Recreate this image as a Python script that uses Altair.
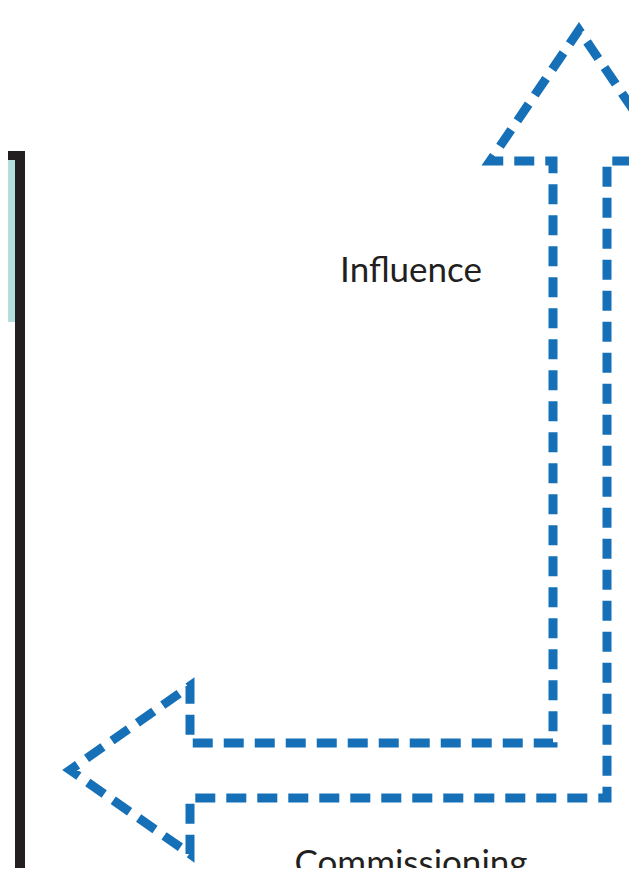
import altair as alt
import pandas as pd

# Page-pixel coordinates of the dashed L-shaped double arrow outline (vertex order)
arrow_x = [668, 579, 490, 553, 553, 190, 190, 70, 190, 190, 607, 607, 668]
arrow_y = [161, 30, 161, 161, 743, 743, 686, 770, 854, 798, 798, 161, 161]

# Labels
labels = ["Influence", "Commissioning"]
label_x = [411, 411]
label_y = [282, 875]

# Left panel frame pieces: teal fill, black border
panel_names = ["fill", "border_top", "border_side"]
panel_x1 = [0, 0, 15]
panel_x2 = [15, 25, 25]
panel_y1 = [160, 151, 151]
panel_y2 = [322, 160, 900]
panel_colors = ["#b3dfdc", "#231f20", "#231f20"]

# chart occupies page pixels 8..629 x 8..868 (8px page margin)
W, H = 621, 860
xs = alt.Scale(domain=[8, 629], nice=False, zero=False)
ys = alt.Scale(domain=[8, 868], nice=False, zero=False, reverse=True)

arrow_df = pd.DataFrame({"i": range(len(arrow_x)), "x": arrow_x, "y": arrow_y})
label_df = pd.DataFrame({"t": labels, "x": label_x, "y": label_y})
panel_df = pd.DataFrame({"n": panel_names, "x1": panel_x1, "x2": panel_x2,
                         "y1": panel_y1, "y2": panel_y2, "c": panel_colors})

panel = alt.Chart(panel_df).mark_rect(clip=True).encode(
    x=alt.X("x1:Q", scale=xs, axis=None),
    x2="x2:Q",
    y=alt.Y("y1:Q", scale=ys, axis=None),
    y2="y2:Q",
    color=alt.Color("c:N", scale=None),
)

arrow = alt.Chart(arrow_df).mark_line(
    clip=True, color="#1570b8", strokeWidth=9, strokeDash=[20, 11],
    strokeJoin="miter", strokeMiterLimit=10
).encode(
    x=alt.X("x:Q", scale=xs, axis=None),
    y=alt.Y("y:Q", scale=ys, axis=None),
    order="i:Q",
)

text = alt.Chart(label_df).mark_text(
    font="Lato", fontSize=35, color="#231f20", align="center", baseline="alphabetic"
).encode(
    x=alt.X("x:Q", scale=xs, axis=None),
    y=alt.Y("y:Q", scale=ys, axis=None),
    text="t:N",
)

chart = alt.layer(panel, arrow, text).properties(
    width=W, height=H, padding=0, autosize=alt.AutoSizeParams(type="none")
).configure(background="white", view=alt.ViewConfig(strokeWidth=0, stroke=None))

chart.save("out.html", embed_options={"renderer": "svg", "actions": False})
